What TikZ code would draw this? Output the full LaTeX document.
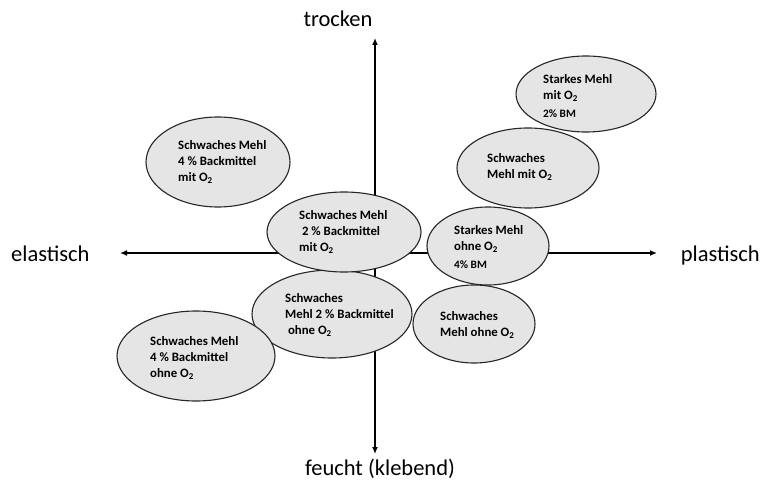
\documentclass[tikz,border=0pt]{standalone}
\usepackage{fontspec}
\setmainfont{Carlito}
\usetikzlibrary{shapes.geometric,arrows.meta}
\begin{document}
\begin{tikzpicture}[x=1pt,y=-1pt,
  blob/.style={ellipse,draw=black!85,line width=1.1pt,fill=black!10,inner sep=0pt},
  txt/.style={anchor=west,align=left,font=\fontsize{12.8}{16}\selectfont\bfseries,inner sep=0pt},
  small/.style={font=\fontsize{11.3}{13}\selectfont\bfseries},
  axis/.style={line width=1.5pt,-{Latex[length=7pt,width=6pt]}},
  lab/.style={font=\fontsize{22.5}{26}\selectfont,inner sep=0pt}]
\useasboundingbox (0,0) rectangle (760,481);
% axes
\coordinate (c) at (375,253);
\coordinate (top) at (375,38);
\coordinate (bot) at (375,454);
\coordinate (lft) at (120,253);
\coordinate (rgt) at (657,253);
\draw[axis] (c) -- (top);
\draw[axis] (c) -- (bot);
\draw[axis] (c) -- (lft);
\draw[axis] (c) -- (rgt);
\node[lab,anchor=base] (ltop) at (338,27) {trocken};
\node[lab,anchor=base] (lbot) at (380,475) {feucht (klebend)};
\node[lab,anchor=base west] (llft) at (11,261) {elastisch};
\node[lab,anchor=base east] (lrgt) at (760,261) {plastisch};
% ellipses
\node[blob,minimum width=140,minimum height=76] (e1) at (586,94) {};
\node[blob,minimum width=142,minimum height=80] (e2) at (528,168) {};
\node[blob,minimum width=144,minimum height=90] (e3) at (218,162) {};
\node[blob,minimum width=160,minimum height=88] (e6) at (332,314) {};
\node[blob,minimum width=154,minimum height=80] (e4) at (344,232) {};
\node[blob,minimum width=122,minimum height=78] (e5) at (488,246) {};
\node[blob,minimum width=122,minimum height=78] (e7) at (474,324) {};
\node[blob,minimum width=158,minimum height=90] (e8) at (196,356) {};
% texts
\node[txt] (t1a) at (543,88) {Starkes Mehl\\mit O\textsubscript{2}};
\node[txt,small] (t1b) at (543,114) {2\% BM};
\node[txt] (t2) at (487,167) {Schwaches\\Mehl mit O\textsubscript{2}};
\node[txt] (t3) at (178,162) {Schwaches Mehl\\4 \% Backmittel\\mit O\textsubscript{2}};
\node[txt] (t4) at (299,232) {Schwaches Mehl\\\ 2 \% Backmittel\\mit O\textsubscript{2}};
\node[txt] (t5a) at (454,239) {Starkes Mehl\\ohne O\textsubscript{2}};
\node[txt,small] (t5b) at (454,265) {4\% BM};
\node[txt] (t6) at (285,315) {Schwaches\\Mehl 2 \% Backmittel\\\ ohne O\textsubscript{2}};
\node[txt] (t7) at (440,325) {Schwaches\\Mehl ohne O\textsubscript{2}};
\node[txt] (t8) at (150,358) {Schwaches Mehl\\4 \% Backmittel\\ohne O\textsubscript{2}};
\end{tikzpicture}
\end{document}
